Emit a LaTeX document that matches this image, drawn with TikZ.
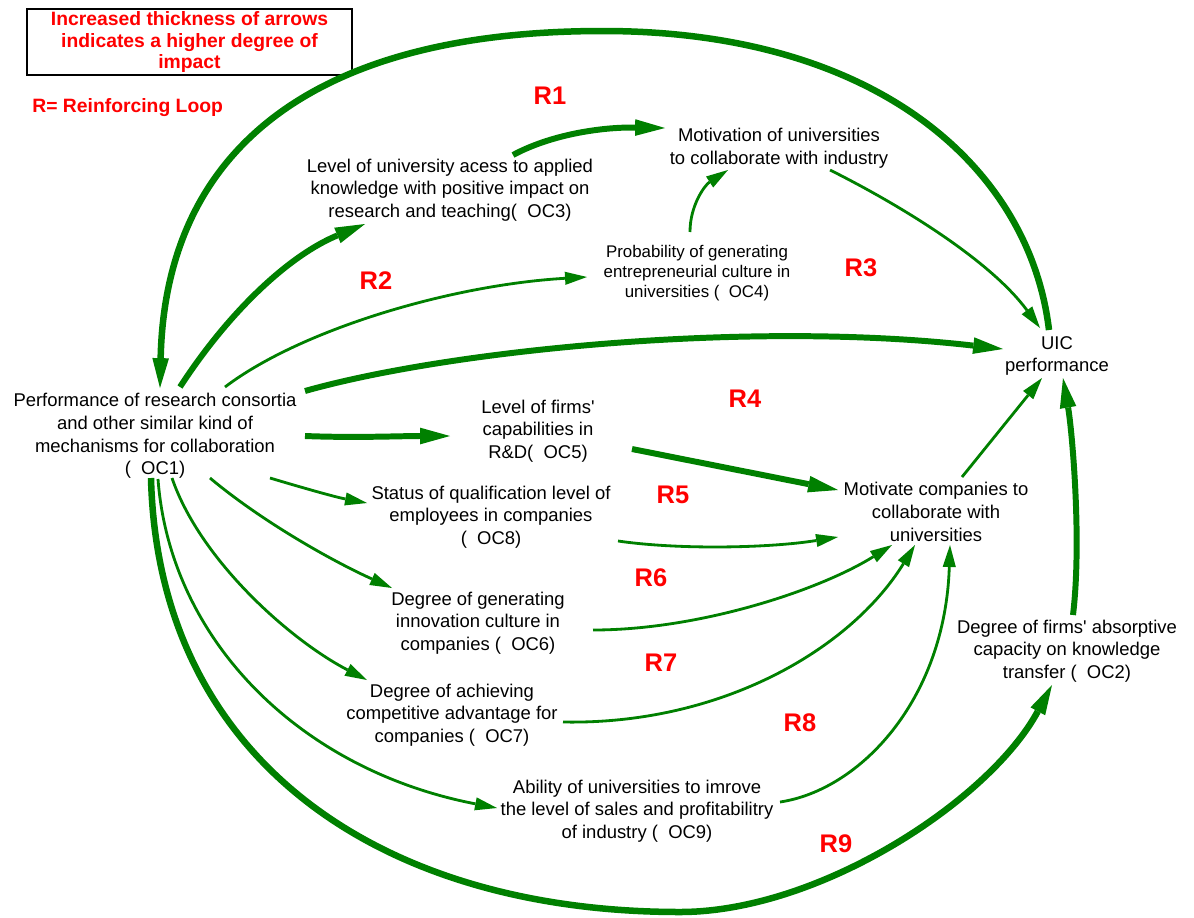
\documentclass[tikz,border=0pt]{standalone}
\usepackage{fontspec}
\setmainfont{Liberation Sans}
\usetikzlibrary{arrows.meta,calc}
\definecolor{linkgreen}{RGB}{0,128,0}
\definecolor{loopred}{RGB}{255,0,0}

\tikzset{
  factor/.style={align=center, inner sep=0pt, text=black,
    font=\fontsize{10.5}{12.9}\selectfont},
  smallfactor/.style={factor, font=\fontsize{9.6}{11.5}\selectfont},
  looplabel/.style={text=loopred, inner sep=0pt,
    font=\fontsize{14.5}{16}\selectfont\bfseries},
  legendbox/.style={draw=black, line width=0.7pt, minimum width=6.5cm,
    minimum height=1.32cm, align=center, text=loopred, inner sep=0pt,
    font=\fontsize{11}{12.4}\selectfont\bfseries},
  legendnote/.style={text=loopred, inner sep=0pt,
    font=\fontsize{11}{13}\selectfont\bfseries},
  heavy/.style={draw=linkgreen, line width=3.7pt,
    -{Triangle[length=17pt,width=9.5pt,line width=0pt]}},
  strong/.style={draw=linkgreen, line width=3.4pt,
    -{Triangle[length=17pt,width=9.5pt,line width=0pt]}},
  weak/.style={draw=linkgreen, line width=1.6pt,
    -{Triangle[length=12.5pt,width=7.5pt,line width=0pt]}},
}

\begin{document}
\begin{tikzpicture}[x=0.02cm,y=-0.02cm]
\useasboundingbox (0,0) rectangle (1194,917);

% legend
\node[legendbox] (legend) at (189.5,42)
  {Increased thickness of arrows\\indicates a higher degree of\\impact};
\node[legendnote, anchor=west] (note) at (32,108) {R= Reinforcing Loop};

% variables
\node[factor] (oc1) at (155,436)
  {Performance of research consortia\\and other similar kind of\\mechanisms for collaboration\\(\ \ OC1)};
\node[factor] (oc3) at (450,190)
  {Level of university acess to applied\\knowledge with positive impact on\\research and teaching(\ \ OC3)};
\node[factor] (muni) at (779,148)
  {Motivation of universities\\to collaborate with industry};
\node[smallfactor] (oc4) at (697,273)
  {Probability of generating\\entrepreneurial culture in\\universities (\ \ OC4)};
\node[factor] (uic) at (1057,356) {UIC\\performance};
\node[factor] (oc5) at (538,431)
  {Level of firms\textquotesingle\\capabilities in\\R\&D(\ \ OC5)};
\node[factor] (oc8) at (491,517)
  {Status of qualification level of\\employees in companies\\(\ \ OC8)};
\node[factor] (mcomp) at (936,512)
  {Motivate companies to\\collaborate with\\universities};
\node[factor] (oc6) at (478,623)
  {Degree of generating\\innovation culture in\\companies (\ \ OC6)};
\node[factor] (oc7) at (452,715)
  {Degree of achieving\\competitive advantage for\\companies (\ \ OC7)};
\node[factor] (oc9) at (637,811)
  {Ability of universities to imrove\\the level of sales and profitabilitry\\of industry (\ \ OC9)};
\node[factor] (oc2) at (1067,651)
  {Degree of firms\textquotesingle{} absorptive\\capacity on knowledge\\transfer (\ \ OC2)};

% loop labels
\node[looplabel] (r1) at (550,96) {R1};
\node[looplabel] (r2) at (376,281) {R2};
\node[looplabel] (r3) at (861,268) {R3};
\node[looplabel] (r4) at (745,399) {R4};
\node[looplabel] (r5) at (673,495) {R5};
\node[looplabel] (r6) at (651,578) {R6};
\node[looplabel] (r7) at (661,663) {R7};
\node[looplabel] (r8) at (800,723) {R8};
\node[looplabel] (r9) at (836,844) {R9};

% way points of the two outer loops
\coordinate (toparc) at (603,31);
\coordinate (bottomarc) at (680,912);

% outer loops
\draw[heavy] ($(uic)+(-8,-26)$) .. controls +(-19,-160) and +(277,0) .. (toparc)
  .. controls +(-303,0) and +(5,-228) .. ($(oc1)+(5,-48)$);
\draw[heavy] ($(oc1)+(-4,42)$) .. controls +(7,282) and +(-300,0) .. (bottomarc)
  .. controls +(140,0) and +(-62,115) .. ($(oc2)+(-15,34)$);

% university side
\draw[strong] ($(oc1)+(25,-49)$) .. controls +(50,-77) and +(-75,31) .. ($(oc3)+(-85,34)$);
\draw[strong] ($(oc3)+(63,-35)$) .. controls +(37,-20) and +(-65,-1) .. ($(muni)+(-114,-20)$);
\draw[weak] ($(oc4)+(-7,-41)$) .. controls +(0,-27) and +(-23,15) .. ($(muni)+(-51,22)$);
\draw[weak] ($(muni)+(51,22)$) .. controls +(70,35) and +(-50,-68) .. ($(uic)+(-17,-28)$);
\draw[weak] ($(oc1)+(70,-49)$) .. controls +(75,-57) and +(-137,8) .. ($(oc4)+(-110,4)$);
\draw[strong] ($(oc1)+(150,-45)$) .. controls +(145,-41) and +(-253,-29) .. ($(uic)+(-54,-7)$);

% company side
\draw[strong] ($(oc1)+(150,0)$) .. controls +(50,2) and +(-50,0) .. ($(oc5)+(-88,5)$);
\draw[strong] ($(oc5)+(94,18)$) -- ($(mcomp)+(-98,-22)$);
\draw[weak] ($(mcomp)+(26,-35)$) -- ($(uic)+(-15,22)$);
\draw[strong] ($(oc2)+(6,-36)$) .. controls +(9,-75) and +(9,52) .. ($(uic)+(6,22)$);

\draw[weak] ($(oc1)+(115,42)$) .. controls +(30,9) and +(-32,-6) .. ($(oc8)+(-124,-14)$);
\draw[weak] ($(oc8)+(127,24)$) .. controls +(62,9) and +(-68,11) .. ($(mcomp)+(-98,25)$);
\draw[weak] ($(oc1)+(55,42)$) .. controls +(50,42) and +(-62,-28) .. ($(oc6)+(-86,-35)$);
\draw[weak] ($(oc6)+(115,7)$) .. controls +(107,0) and +(-72,45) .. ($(mcomp)+(-44,33)$);
\draw[weak] ($(oc1)+(17,42)$) .. controls +(28,82) and +(-77,-40) .. ($(oc7)+(-85,-35)$);
\draw[weak] ($(oc7)+(111,7)$) .. controls +(157,3) and +(-65,105) .. ($(mcomp)+(-21,33)$);
\draw[weak] ($(oc1)+(3,43)$) .. controls +(12,161) and +(-197,-38) .. ($(oc9)+(-140,-3)$);
\draw[weak] ($(oc9)+(143,-9)$) .. controls +(80,-12) and +(-5,155) .. ($(mcomp)+(14,33)$);
\end{tikzpicture}
\end{document}
